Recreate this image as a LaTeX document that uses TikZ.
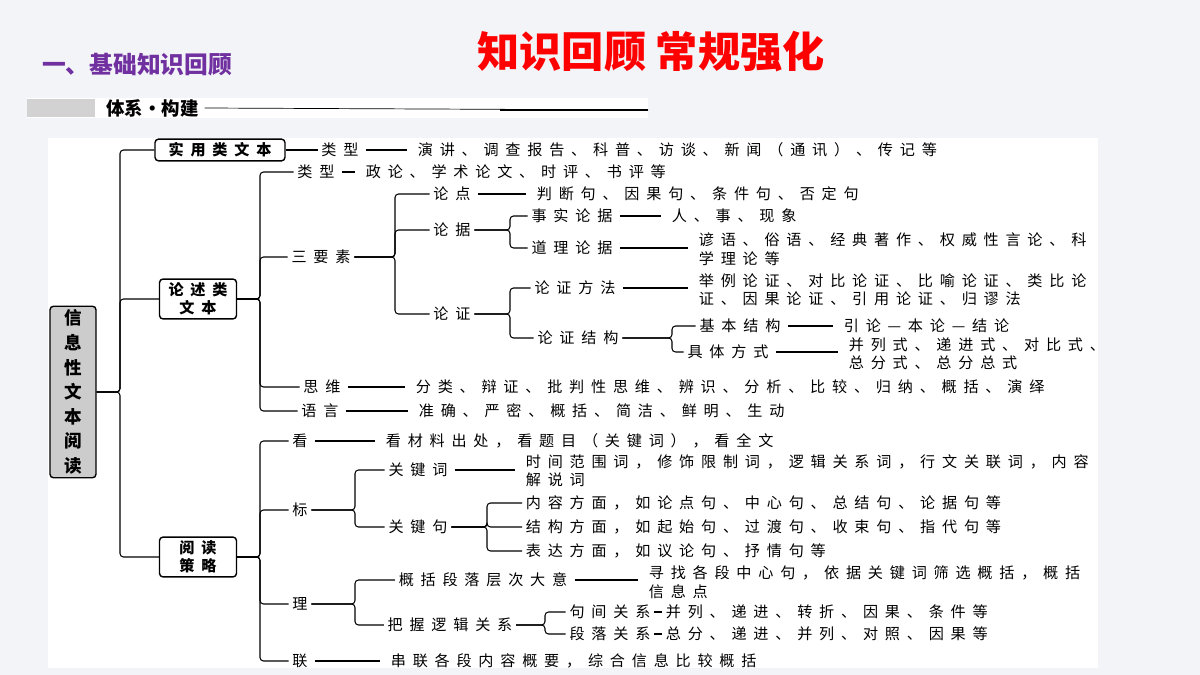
\documentclass[tikz,border=0pt]{standalone}
\usepackage{fontspec}
\setmainfont{Noto Sans CJK SC}
\newfontfamily\dfont[LetterSpace=45]{Noto Sans CJK SC}
\usetikzlibrary{calc}
\definecolor{purp}{RGB}{112,48,160}
\definecolor{bgray}{RGB}{243,244,248}
\tikzset{
  txt/.style={anchor=west,inner sep=2pt,align=left,font=\dfont\fontsize{8.6}{10.5}\selectfont},
  lbl/.style={inner sep=2pt,font=\dfont\fontsize{8.6}{10.5}\selectfont},
  box/.style={draw,rounded corners=2pt,line width=0.8pt,inner sep=2pt,align=center,font=\dfont\bfseries\fontsize{8.6}{10.5}\selectfont},
  link/.style={line width=0.6pt,rounded corners=2pt},
  dashln/.style={line width=0.6pt,shorten <=2pt,shorten >=4pt}
}
\newcommand\brk[3]{\foreach \c in {#3} \draw[link] (#1.east) -- (#1.east -| #2) |- (\c.west);}
\begin{document}
\begin{tikzpicture}[x=0.02cm,y=-0.02cm]
  % background
  \fill[bgray] (0,0) rectangle (1200,675);
  \useasboundingbox (0,0) rectangle (1200,675);
  \fill[white] (48,138) rectangle (1098,668);

  % header
  \node[text=red,font=\bfseries\fontsize{24}{27}\selectfont] (title) at (651,52) {知识回顾 常规强化};
  \node[text=purp,anchor=west,font=\bfseries\fontsize{13.5}{16}\selectfont] (sec) at (36,65) {一、基础知识回顾};
  \fill[white] (27,98) rectangle (648,118);
  \fill[gray!35] (27,99) rectangle (95,117);
  \node[anchor=west,font=\bfseries\fontsize{10.5}{12}\selectfont] (sys) at (100,108) {体系·构建};
  \draw[line width=0.4pt] (sys.east) -- (648,110);
  \draw[line width=0.8pt] (500,110) -- (648,110);

  % bracket positions
  \coordinate (b1) at (120,0);
  \coordinate (b2) at (260,0);
  \coordinate (b3) at (395,0);
  \coordinate (b4) at (510,0);
  \coordinate (b5) at (672,0);
  \coordinate (b6) at (355,0);
  \coordinate (b7) at (487,0);
  \coordinate (b8) at (545,0);

  % root
  \node[box,fill=gray!40,minimum width=0.92cm,minimum height=2.8cm,font=\dfont\bfseries\fontsize{10}{14}\selectfont] (root) at (73,392) {信\\息\\性\\文\\本\\阅\\读};

  % practical texts
  \node[box,minimum width=2.6cm] (shiyong) at (220,150) {实用类文本};
  \node[lbl] (sy1) at (340,150) {类型};
  \node[txt] (sy1t) at (414,150) {演讲、调查报告、科普、访谈、新闻（通讯）、传记等};

  % argumentative texts
  \node[box,minimum width=1.54cm,minimum height=0.68cm] (lunshu) at (198,299) {论述类\\文本};
  \node[lbl] (ls1) at (316,172) {类型};
  \node[txt] (ls1t) at (362,172) {政论、学术论文、时评、书评等};
  \node[lbl] (ls2) at (321,257) {三要素};
  \node[lbl] (ls3) at (322,387) {思维};
  \node[txt] (ls3t) at (412,387) {分类、辩证、批判性思维、辨识、分析、比较、归纳、概括、演绎};
  \node[lbl] (ls4) at (320,411) {语言};
  \node[txt] (ls4t) at (415,411) {准确、严密、概括、简洁、鲜明、生动};

  \node[lbl] (ld) at (452,194) {论点};
  \node[txt] (ldt) at (533,194) {判断句、因果句、条件句、否定句};
  \node[lbl] (lj) at (452,230) {论据};
  \node[lbl] (lz) at (452,314) {论证};
  \node[lbl] (lj1) at (572,216) {事实论据};
  \node[txt] (lj1t) at (668,216) {人、事、现象};
  \node[lbl] (lj2) at (572,248) {道理论据};
  \node[txt] (lj2t) at (695,249) {谚语、俗语、经典著作、权威性言论、科\\学理论等};
  \node[lbl] (lz1) at (575,288) {论证方法};
  \node[txt] (lz1t) at (695,290) {举例论证、对比论证、比喻论证、类比论\\证、因果论证、引用论证、归谬法};
  \node[lbl] (lz2) at (578,338) {论证结构};
  \node[lbl] (jg1) at (740,326) {基本结构};
  \node[txt] (jg1t) at (840,326) {引论—本论—结论};
  \node[lbl] (jg2) at (728,352) {具体方式};
  \node[txt] (jg2t) at (845,354) {并列式、递进式、对比式、\\总分式、总分总式};

  % reading strategies
  \node[box,minimum width=1.54cm,minimum height=0.7cm] (yuedu) at (198,557) {阅读\\策略};
  \node[lbl] (yd1) at (300,441) {看};
  \node[txt] (yd1t) at (382,441) {看材料出处，看题目（关键词），看全文};
  \node[lbl] (yd2) at (300,510) {标};
  \node[lbl] (yd3) at (300,604) {理};
  \node[lbl] (yd4) at (300,661) {联};
  \node[txt] (yd4t) at (387,661) {串联各段内容概要，综合信息比较概括};
  \node[lbl] (gjc) at (418,470) {关键词};
  \node[txt] (gjct) at (522,471) {时间范围词，修饰限制词，逻辑关系词，行文关联词，内容\\解说词};
  \node[lbl] (gjj) at (418,527) {关键句};
  \node[txt] (gjj1) at (522,503) {内容方面，如论点句、中心句、总结句、论据句等};
  \node[txt] (gjj2) at (522,527) {结构方面，如起始句、过渡句、收束句、指代句等};
  \node[txt] (gjj3) at (522,551) {表达方面，如议论句、抒情句等};
  \node[lbl] (gk) at (483,580) {概括段落层次大意};
  \node[txt] (gkt) at (645,582) {寻找各段中心句，依据关键词筛选概括，概括\\信息点};
  \node[lbl] (bw) at (450,625) {把握逻辑关系};
  \node[lbl] (jj) at (610,612) {句间关系};
  \node[txt] (jjt) at (662,612) {并列、递进、转折、因果、条件等};
  \node[lbl] (dl) at (610,634) {段落关系};
  \node[txt] (dlt) at (662,634) {总分、递进、并列、对照、因果等};

  % brackets
  \brk{root}{b1}{shiyong,lunshu,yuedu}
  \brk{lunshu}{b2}{ls1,ls2,ls3,ls4}
  \brk{ls2}{b3}{ld,lj,lz}
  \brk{lj}{b4}{lj1,lj2}
  \brk{lz}{b4}{lz1,lz2}
  \brk{lz2}{b5}{jg1,jg2}
  \brk{yuedu}{b2}{yd1,yd2,yd3,yd4}
  \brk{yd2}{b6}{gjc,gjj}
  \brk{gjj}{b7}{gjj1,gjj2,gjj3}
  \brk{yd3}{b6}{gk,bw}
  \brk{bw}{b8}{jj,dl}

  % dashes
  \draw[line width=0.6pt] (shiyong.east) -- (sy1.west);
  \foreach \a/\b in {sy1/sy1t,ls1/ls1t,ls3/ls3t,ls4/ls4t,ld/ldt,lj1/lj1t,lj2/lj2t,
      lz1/lz1t,jg1/jg1t,jg2/jg2t,yd1/yd1t,yd4/yd4t,gjc/gjct,gk/gkt}
    \draw[dashln] (\a.east) -- (\a.east -| \b.west);
  \foreach \a/\b in {jj/jjt,dl/dlt}
    \draw[line width=0.6pt] (\a.east) -- (\b.west);
\end{tikzpicture}
\end{document}
